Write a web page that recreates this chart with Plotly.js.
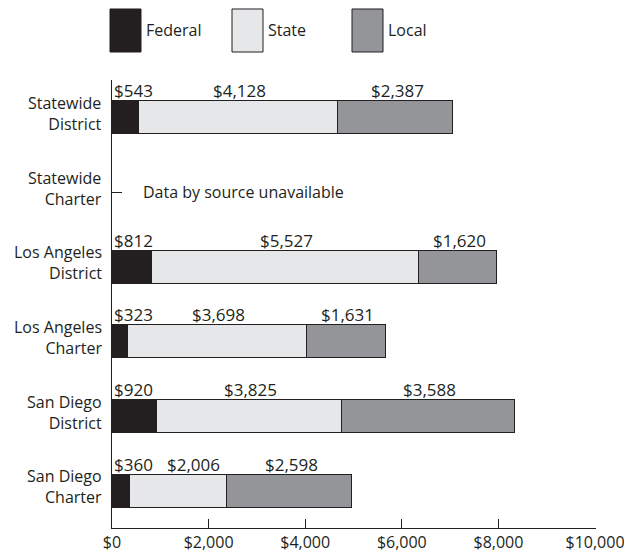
<!DOCTYPE html>
<html>
<head>
<meta charset="utf-8">
<script src="https://cdn.plot.ly/plotly-3.0.1.min.js"></script>
<style>html,body{margin:0;padding:0;background:#fff;}#chart{width:624px;height:558px;}</style>
</head>
<body>
<div id="chart"></div>
<script>
const categories = ['Statewide<br>District','Statewide<br>Charter','Los Angeles<br>District','Los Angeles<br>Charter','San Diego<br>District','San Diego<br>Charter'];
const federal = [543, null, 812, 323, 920, 360];
const state = [4128, null, 5527, 3698, 3825, 2006];
const local = [2387, null, 1620, 1631, 3588, 2598];
const seriesNames = ['Federal', 'State', 'Local'];
const tickVals = [0, 2000, 4000, 6000, 8000, 10000];
const tickText = ['$0', '$2,000', '$4,000', '$6,000', '$8,000', '$10,000'];
const noDataNote = 'Data by source unavailable';
const noDataCategory = 'Statewide<br>Charter';

const colors = ['#231f20', '#e6e7e8', '#939598'];
const outline = '#231f20';
const FONT = '"Open Sans", sans-serif';
const series = [federal, state, local];

const fmt = v => '$' + v.toLocaleString('en-US');

const traces = series.map((vals, i) => ({
  type: 'bar', orientation: 'h', name: seriesNames[i],
  y: categories, x: vals,
  width: 0.44,
  marker: {color: colors[i], line: {color: outline, width: 1}},
  hoverinfo: 'x+name'
}));

// plot geometry for label collision avoidance
const mL = 112, mR = 28;
const plotW = 624 - mL - mR;
const xMax = 10020;
const pxPerUnit = plotW / xMax;
const labelSize = 17;
const estWidth = s => { let w = 0; for (const c of s) w += (c === ',' ? 0.26 : 0.572); return w * labelSize; };

const annotations = [];
categories.forEach((cat, ci) => {
  annotations.push({
    x: 0, y: cat, xref: 'paper', yref: 'y', text: cat, showarrow: false,
    xanchor: 'right', yanchor: 'middle', align: 'right', xshift: -8, yshift: 4,
    font: {family: FONT, size: 16, color: '#231f20'}
  });
  let cum = 0;
  let prevRightPx = -Infinity;
  series.forEach((vals, si) => {
    const v = vals[ci];
    if (v == null) return;
    const txt = fmt(v);
    const w = estWidth(txt);
    let leftPx;
    if (si === 0) {
      leftPx = 0;
    } else {
      const centerPx = (cum + v / 2) * pxPerUnit;
      leftPx = centerPx - w / 2;
      if (leftPx < prevRightPx + 14) leftPx = prevRightPx + 14;
    }
    prevRightPx = leftPx + w;
    annotations.push({
      x: leftPx / pxPerUnit, y: cat, xref: 'x', yref: 'y',
      text: txt, showarrow: false, xanchor: 'left', yanchor: 'bottom',
      yshift: 13, font: {family: FONT, size: labelSize, color: '#231f20'}
    });
    cum += v;
  });
});

annotations.push({
  x: 600, y: noDataCategory, xref: 'x', yref: 'y', text: noDataNote,
  showarrow: false, xanchor: 'left', yanchor: 'middle',
  font: {family: FONT, size: 16, color: '#231f20'}
});

// custom legend (boxes + labels)
const shapes = [];
const legendPx = [-2, 120, 240];
const boxW = 31 / plotW;
seriesNames.forEach((n, i) => {
  const x0 = legendPx[i] / plotW;
  shapes.push({
    type: 'rect', xref: 'paper', yref: 'paper',
    x0: x0, x1: x0 + boxW, y0: 1.0625, y1: 1.1585,
    fillcolor: colors[i], line: {color: outline, width: 1}
  });
  annotations.push({
    xref: 'paper', yref: 'paper', x: x0 + boxW + 3 / plotW, y: 1.111,
    text: n, showarrow: false, xanchor: 'left', yanchor: 'middle',
    font: {family: FONT, size: 16, color: '#231f20'}
  });
});

const layout = {
  width: 624, height: 558,
  margin: {l: mL, r: mR, t: 80, b: 30, pad: 0},
  paper_bgcolor: '#fff', plot_bgcolor: '#fff',
  barmode: 'stack', showlegend: false,
  font: {family: FONT, color: '#231f20'},
  xaxis: {
    range: [0, xMax], tickvals: tickVals, ticktext: tickText,
    ticks: 'inside', ticklen: 9, tickcolor: '#231f20', tickwidth: 1,
    showline: true, linecolor: '#231f20', linewidth: 1,
    showgrid: false, zeroline: false, fixedrange: true,
    ticklabeloverflow: 'allow',
    tickfont: {family: FONT, size: 16, color: '#231f20'}
  },
  yaxis: {
    type: 'category', categoryorder: 'array', categoryarray: categories,
    range: [5.5, -0.5],
    ticks: 'inside', ticklen: 10, tickcolor: '#231f20', tickwidth: 1,
    showline: true, linecolor: '#231f20', linewidth: 1,
    showgrid: false, zeroline: false, fixedrange: true,
    showticklabels: false
  },
  annotations: annotations,
  shapes: shapes
};

Plotly.newPlot('chart', traces, layout, {displayModeBar: false, staticPlot: true});
</script>
</body>
</html>
